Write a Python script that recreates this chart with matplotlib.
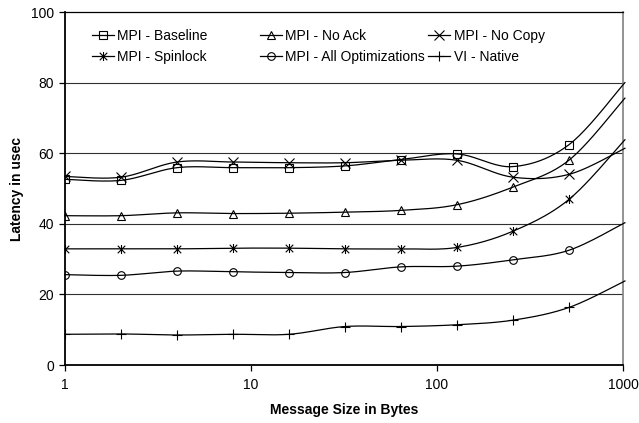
import numpy as np
import matplotlib
matplotlib.use("Agg")
import matplotlib.pyplot as plt
from matplotlib.lines import Line2D
from matplotlib.path import Path
from matplotlib.legend import Legend

plt.rcParams.update({
    "font.family": ["Liberation Sans", "DejaVu Sans"],
    "font.size": 10,
})

# ============================
# Data
# ============================
sizes = [1, 2, 4, 8, 16, 32, 64, 128, 256, 512, 1024]

baseline = [52.6, 52.3, 55.9, 55.9, 55.9, 56.4, 58.2, 59.8, 56.2, 62.4, 80.0]
no_ack = [42.3, 42.3, 43.1, 42.9, 43.0, 43.3, 43.8, 45.4, 50.4, 58.0, 75.6]
no_copy = [53.4, 53.2, 57.5, 57.5, 57.3, 57.3, 58.0, 58.0, 53.2, 54.0, 61.4]
spinlock = [32.9, 32.9, 32.9, 33.1, 33.1, 32.9, 32.9, 33.3, 37.9, 46.9, 63.8]
all_opt = [25.6, 25.4, 26.6, 26.4, 26.2, 26.2, 27.8, 28.0, 29.8, 32.5, 40.3]
vi_native = [8.7, 8.8, 8.5, 8.7, 8.7, 10.9, 10.9, 11.4, 12.7, 16.3, 23.8]

# asterisk = x with a vertical bar
asterisk = Path(
    [(-1, -1), (1, 1), (-1, 1), (1, -1), (0, -1.2), (0, 1.2)],
    [Path.MOVETO, Path.LINETO, Path.MOVETO, Path.LINETO, Path.MOVETO, Path.LINETO],
)

series = [
    ("MPI - Baseline", baseline, "s"),
    ("MPI - No Ack", no_ack, "^"),
    ("MPI - No Copy", no_copy, "x"),
    ("MPI - Spinlock", spinlock, asterisk),
    ("MPI - All Optimizations", all_opt, "o"),
    ("VI - Native", vi_native, "+"),
]


def smooth(xs, ys, n=24):
    # bezier smoothing through the points (spreadsheet "smoothed line"), in log-x space
    lx = np.log10(xs)
    ys = np.asarray(ys, float)
    px, py = [], []
    m = len(lx)
    for i in range(m - 1):
        i0, i3 = max(i - 1, 0), min(i + 2, m - 1)
        p0 = np.array([lx[i0], ys[i0]])
        p1 = np.array([lx[i], ys[i]])
        p2 = np.array([lx[i + 1], ys[i + 1]])
        p3 = np.array([lx[i3], ys[i3]])
        c1 = p1 + (p2 - p0) / 6
        c2 = p2 - (p3 - p1) / 6
        t = np.linspace(0, 1, n)[:, None]
        b = ((1 - t) ** 3) * p1 + 3 * ((1 - t) ** 2) * t * c1 + 3 * (1 - t) * t ** 2 * c2 + t ** 3 * p2
        px.append(b[:, 0])
        py.append(b[:, 1])
    return 10 ** np.concatenate(px), np.concatenate(py)


fig = plt.figure(figsize=(6.39, 4.23), dpi=100)
ax = fig.add_axes([65 / 639, 1 - 365 / 423, 558 / 639, 353 / 423])

handles = {}
for name, vals, mk in series:
    ms = 6.5 if mk in ("x", "+") or mk is asterisk else 5.5
    sx, sy = smooth(sizes, vals)
    ax.plot(sx, sy, color="black", lw=0.9, clip_on=False, zorder=3)
    ax.plot(sizes[:-1], vals[:-1], ls="none", marker=mk, ms=ms, mfc="none",
            mec="black", mew=0.8, zorder=4)
    handles[name] = Line2D([], [], color="black", lw=0.9, marker=mk, ms=ms,
                           mfc="none", mec="black", mew=0.8)

ax.set_xscale("log")
ax.set_xlim(1, 1000)
ax.set_ylim(0, 100)
ax.set_xticks([1, 10, 100, 1000])
ax.set_xticklabels(["1", "10", "100", "1000"])
ax.xaxis.set_minor_locator(matplotlib.ticker.NullLocator())
ax.set_yticks([0, 20, 40, 60, 80, 100])
ax.tick_params(axis="x", direction="out", length=4, width=0.9, pad=5.5, labelsize=10)
ax.tick_params(axis="y", direction="out", length=4, width=0.9, pad=4, labelsize=10)

for yv in [20, 40, 60, 80]:
    ax.axhline(yv, color="#303030", lw=0.8, zorder=1)

ax.spines["left"].set_linewidth(1.3)
ax.spines["bottom"].set_linewidth(1.3)
ax.spines["top"].set_linewidth(0.9)
ax.spines["right"].set_color("#808080")
ax.spines["right"].set_linewidth(1.2)

ax.set_xlabel("Message Size in Bytes", fontsize=10, fontweight="bold", labelpad=8)
ax.set_ylabel("Latency in usec", fontsize=10, fontweight="bold")
ax.yaxis.set_label_coords(-0.074, 0.5)

# legend: three equal-width columns, no frame
cols = [["MPI - Baseline", "MPI - Spinlock"],
        ["MPI - No Ack", "MPI - All Optimizations"],
        ["MPI - No Copy", "VI - Native"]]
col_x = [0.048, 0.349, 0.651]
for cx, labels in zip(col_x, cols):
    leg = Legend(ax, [handles[l] for l in labels], labels, loc="upper left",
                 bbox_to_anchor=(cx, 0.953), frameon=False, borderpad=0,
                 borderaxespad=0, handlelength=1.6, handletextpad=0.25,
                 labelspacing=0.5, fontsize=10)
    ax.add_artist(leg)

fig.savefig("out.png", dpi=100)
